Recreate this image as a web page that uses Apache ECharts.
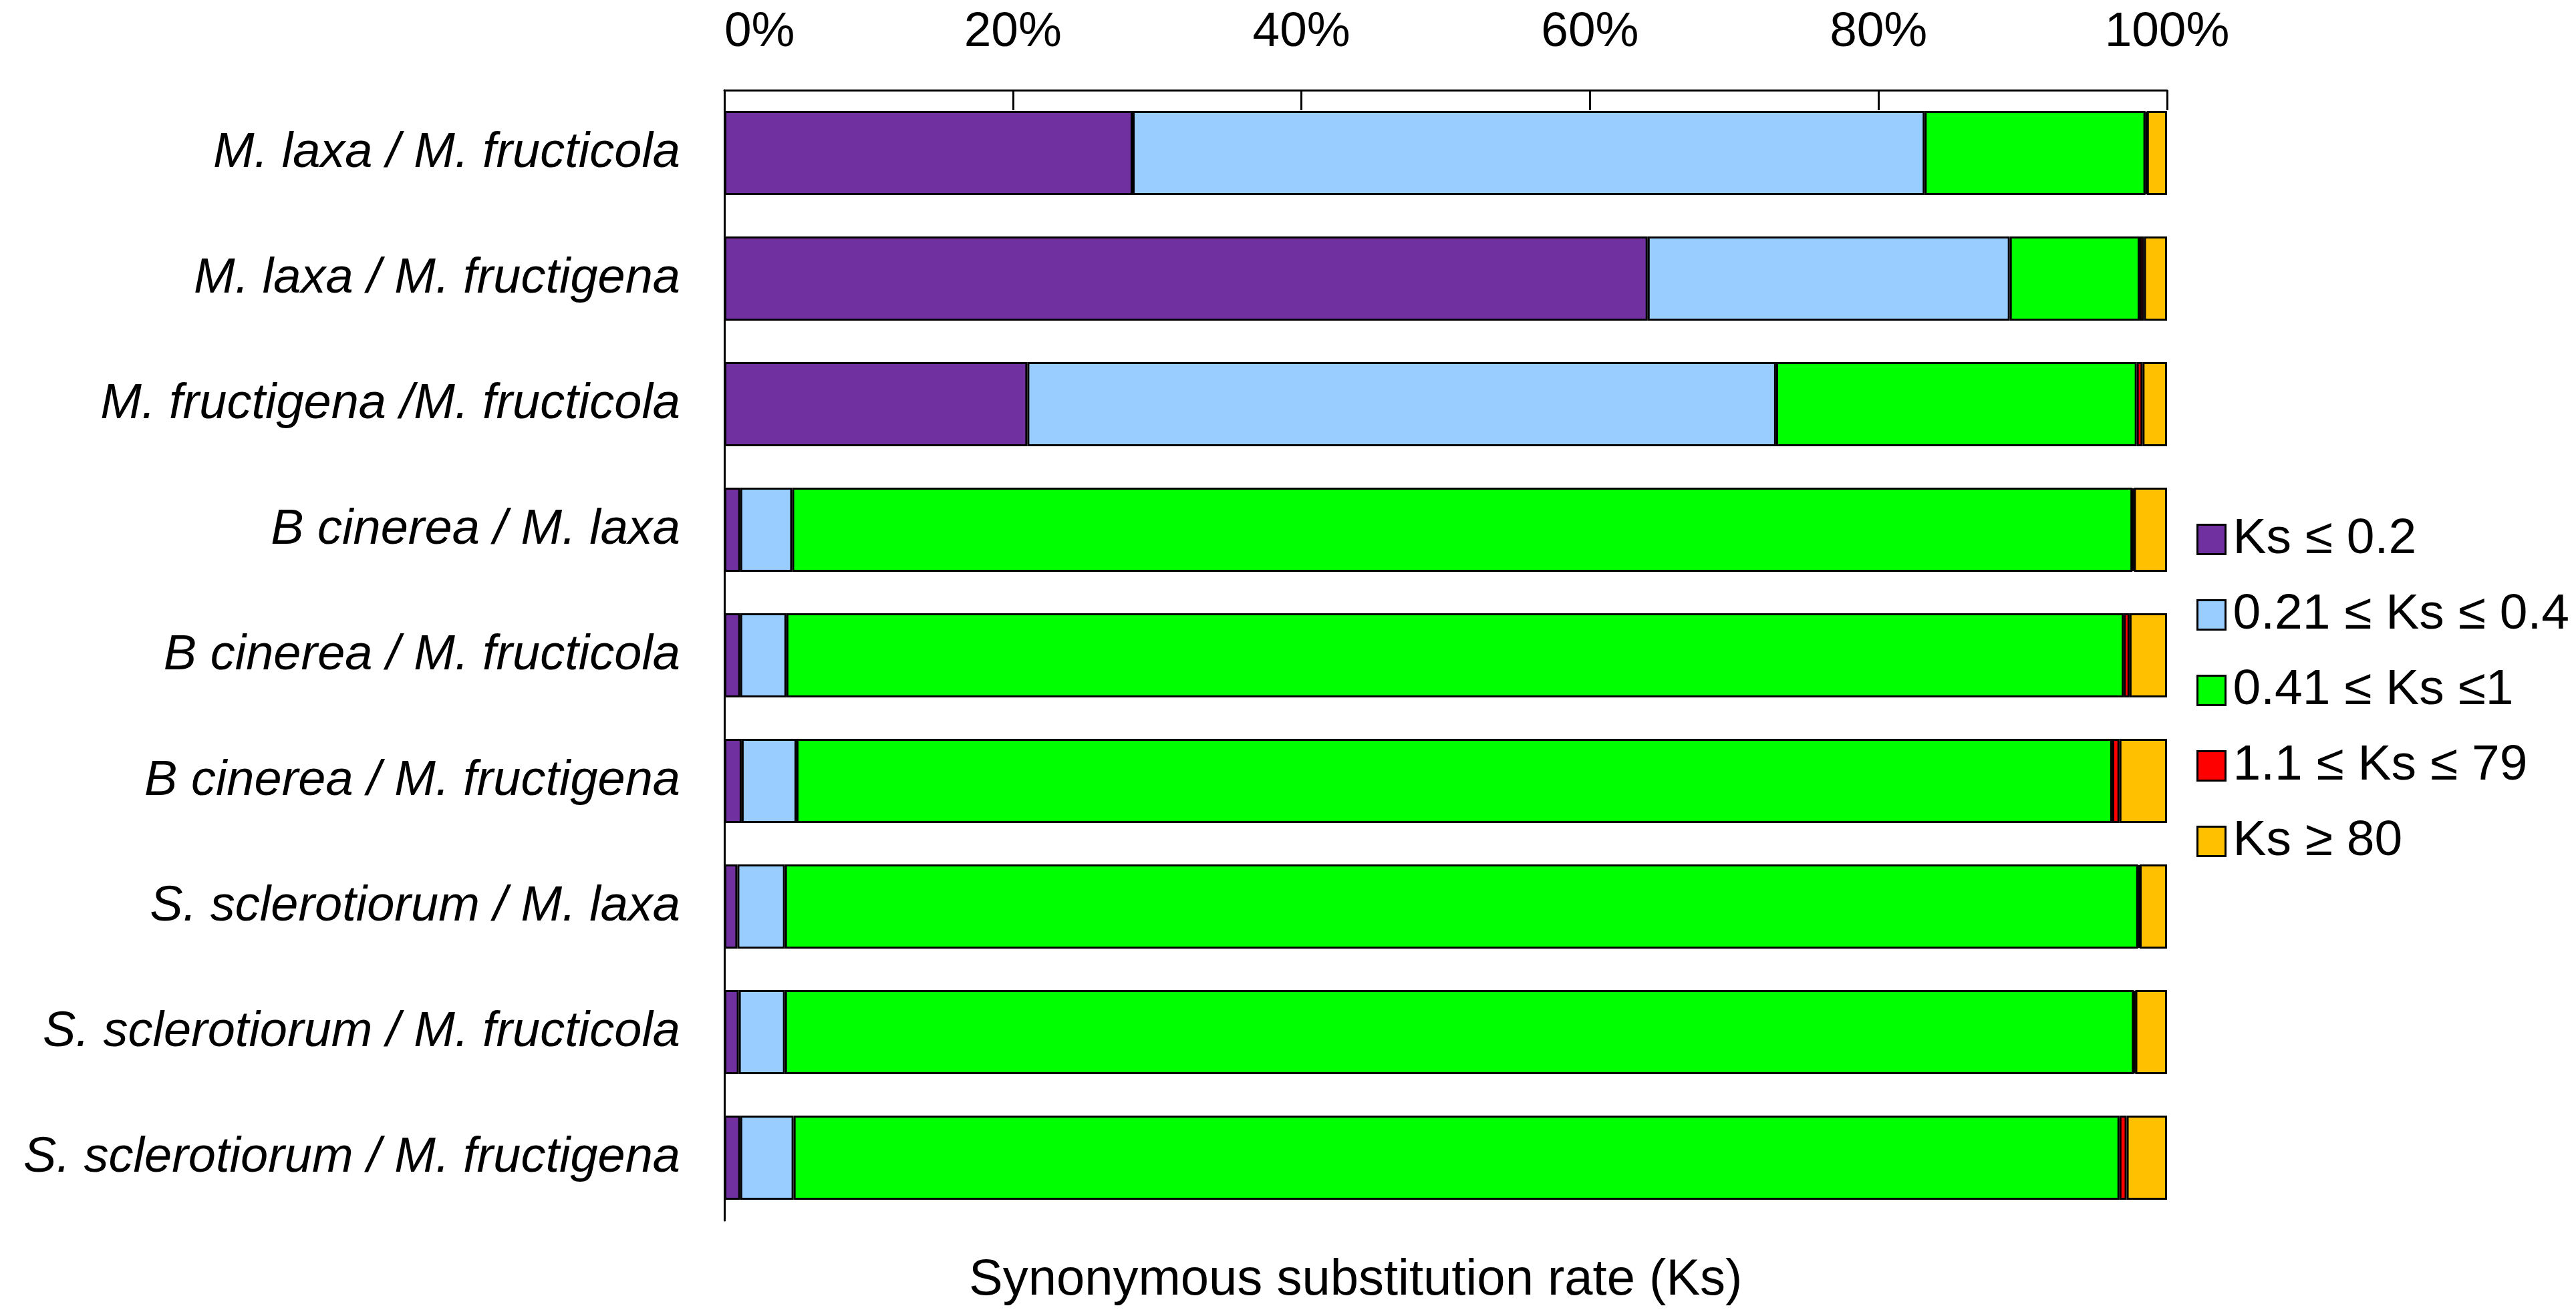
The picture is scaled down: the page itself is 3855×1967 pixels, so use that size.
<!DOCTYPE html>
<html>
<head>
<meta charset="utf-8">
<script src="https://cdn.jsdelivr.net/npm/echarts@6/dist/echarts.min.js"></script>
<style>
  html, body { margin: 0; padding: 0; background: #fff; }
  #main { width: 3855px; height: 1967px; }
</style>
</head>
<body>
<div id="main"></div>
<script>
// 物种对（从上到下）
var pairs = [
    'M. laxa / M. fructicola',
    'M. laxa / M. fructigena',
    'M. fructigena /M. fructicola',
    'B cinerea / M. laxa',
    'B cinerea / M. fructicola',
    'B cinerea / M. fructigena',
    'S. sclerotiorum / M. laxa',
    'S. sclerotiorum / M. fructicola',
    'S. sclerotiorum / M. fructigena'
];

// 各区间所占百分比（与 pairs 顺序一致）
var ksLow = [28.3, 64.0, 21.0, 1.1, 1.1, 1.2, 0.9, 1.0, 1.1];
var ksMid = [54.9, 25.1, 51.9, 3.6, 3.2, 3.8, 3.3, 3.2, 3.7];
var ksHigh = [15.3, 9.0, 25.0, 92.9, 92.7, 91.2, 93.8, 93.5, 91.9];
var ksSat = [0.1, 0.3, 0.4, 0.1, 0.4, 0.5, 0.1, 0.1, 0.5];
var ksOver = [1.4, 1.6, 1.7, 2.3, 2.6, 3.3, 1.9, 2.2, 2.8];

var seriesNames = ['Ks ≤ 0.2', '0.21 ≤ Ks ≤ 0.4', '0.41 ≤ Ks ≤1', '1.1 ≤ Ks ≤ 79', 'Ks ≥ 80'];
var seriesData = [ksLow, ksMid, ksHigh, ksSat, ksOver];
var colors = ['#7030A0', '#99CCFF', '#00FF00', '#FF0000', '#FFC000'];
var xTicks = [0, 20, 40, 60, 80, 100];

var font = 'Liberation Sans, Arial, sans-serif';
var myChart = echarts.init(document.getElementById('main'));

var option = {
    backgroundColor: '#ffffff',
    animation: false,
    color: colors,
    title: {
        text: 'Synonymous substitution rate (Ks)',
        left: 1445,
        top: 1874,
        textStyle: { fontFamily: font, fontSize: 76, fontWeight: 'normal', color: '#000' }
    },
    legend: {
        orient: 'vertical',
        left: 3282,
        top: 765,
        itemWidth: 42,
        itemHeight: 44,
        itemGap: 38,
        icon: 'rect',
        data: seriesNames,
        itemStyle: { borderColor: '#000', borderWidth: 3 },
        textStyle: { fontFamily: font, fontSize: 75, color: '#000', lineHeight: 75, padding: [0, 0, 0, 6] }
    },
    grid: {
        left: 1084,
        right: 612,
        top: 135,
        bottom: 140,
        containLabel: false
    },
    xAxis: {
        type: 'value',
        position: 'top',
        min: 0,
        max: 100,
        interval: 20,
        axisLine: { show: true, lineStyle: { color: '#000', width: 3 } },
        axisTick: { show: true, inside: true, length: 30, lineStyle: { color: '#000', width: 3 } },
        splitLine: { show: false },
        axisLabel: {
            margin: 50,
            fontFamily: font,
            fontSize: 73,
            color: '#000',
            alignMinLabel: 'left',
            formatter: function(v) {
                return xTicks.indexOf(v) >= 0 ? v + '%' : '';
            }
        }
    },
    yAxis: {
        type: 'category',
        inverse: true,
        data: pairs,
        axisLine: { show: true, lineStyle: { color: '#000', width: 3 } },
        axisTick: { show: false },
        axisLabel: {
            margin: 66,
            fontFamily: font,
            fontSize: 74,
            fontStyle: 'italic',
            color: '#000'
        }
    },
    series: seriesData.map(function(d, i) {
        return {
            name: seriesNames[i],
            type: 'bar',
            stack: 'ks',
            barCategoryGap: '33%',
            data: d,
            itemStyle: { color: colors[i], borderColor: '#000', borderWidth: 3 }
        };
    })
};

myChart.setOption(option);
</script>
</body>
</html>
